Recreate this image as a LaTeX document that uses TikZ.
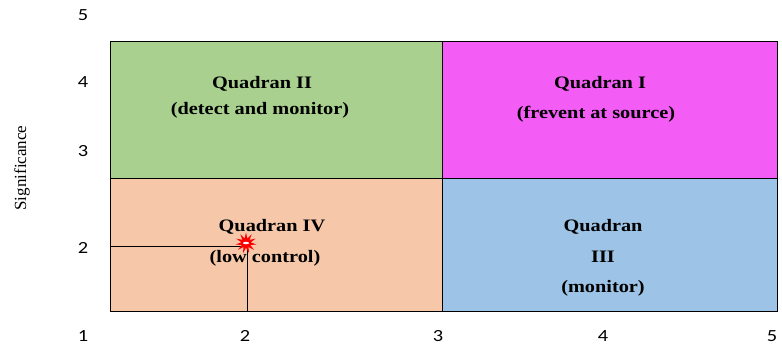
\documentclass[tikz,border=0pt]{standalone}
\usepackage{fontspec}
\setmainfont{Liberation Serif}
\newfontfamily\numfont{Carlito}
\usetikzlibrary{shapes.geometric}
\definecolor{qgreen}{HTML}{A9D08E}
\definecolor{qmagenta}{HTML}{F35CF5}
\definecolor{qpeach}{HTML}{F6C8A9}
\definecolor{qblue}{HTML}{9DC3E6}
\tikzset{
  quad/.style={draw=black, line width=0.9pt},
  qlabel/.style={inner sep=0pt, font=\fontsize{17.5}{19}\selectfont\bfseries},
  tick/.style={inner sep=0pt, font=\numfont\fontsize{17}{19}\selectfont},
  guide/.style={draw=black, line width=0.8pt},
}
\newcommand{\wide}[1]{\scalebox{1.16}[1]{#1}}
\newcommand{\widenum}[1]{\scalebox{1.2}[1]{#1}}
\begin{document}
\begin{tikzpicture}[x=1pt, y=-1pt]
  \useasboundingbox (0,0) rectangle (782,346);
  \fill[white] (0,0) rectangle (782,346);

  % quadrant fields
  \path[quad, fill=qgreen]   (110,41)  rectangle (442,178);
  \path[quad, fill=qmagenta] (442,41)  rectangle (777,178);
  \path[quad, fill=qpeach]   (110,178) rectangle (442,311);
  \path[quad, fill=qblue]    (442,178) rectangle (777,311);

  % quadrant labels
  \node[qlabel] (q2a) at (262,84)  {\wide{Quadran II}};
  \node[qlabel] (q2b) at (260,110) {\wide{(detect and monitor)}};
  \node[qlabel] (q1a) at (600,84)  {\wide{Quadran I}};
  \node[qlabel] (q1b) at (596,114) {\wide{(frevent at source)}};
  \node[qlabel] (q4a) at (272,227) {\wide{Quadran IV}};
  \node[qlabel] (q4b) at (265,258) {\wide{(low control)}};
  \node[qlabel] (q3a) at (603,227) {\wide{Quadran}};
  \node[qlabel] (q3b) at (603,257) {\wide{III}};
  \node[qlabel] (q3c) at (603,288) {\wide{(monitor)}};

  % reading lines to the marked point
  \coordinate (pt) at (247,246);
  \coordinate (yl) at (110,246);
  \coordinate (xl) at (247,311);
  \draw[guide] (yl) -- (pt) -- (xl);
  \node[star, star points=11, star point ratio=2.2, fill=red, draw=none,
        minimum size=21pt, inner sep=0pt] (mark) at (246,243) {};
  \node[ellipse, fill=white, inner sep=0pt, minimum width=6pt,
        minimum height=2.5pt] (markc) at (mark.center) {};

  % axis numbers
  \node[tick] (y5) at (83,15)  {\widenum{5}};
  \node[tick] (y4) at (83,82)  {\widenum{4}};
  \node[tick] (y3) at (83,151) {\widenum{3}};
  \node[tick] (y2) at (83,248) {\widenum{2}};
  \node[tick] (x1) at (83,336) {\widenum{1}};
  \node[tick] (x2) at (245,336) {\widenum{2}};
  \node[tick] (x3) at (438,336) {\widenum{3}};
  \node[tick] (x4) at (603,336) {\widenum{4}};
  \node[tick] (x5) at (772,336) {\widenum{5}};

  % axis title
  \node[inner sep=0pt, rotate=90, font=\fontsize{17}{19}\selectfont]
    (sig) at (22,168) {Significance};
\end{tikzpicture}
\end{document}
